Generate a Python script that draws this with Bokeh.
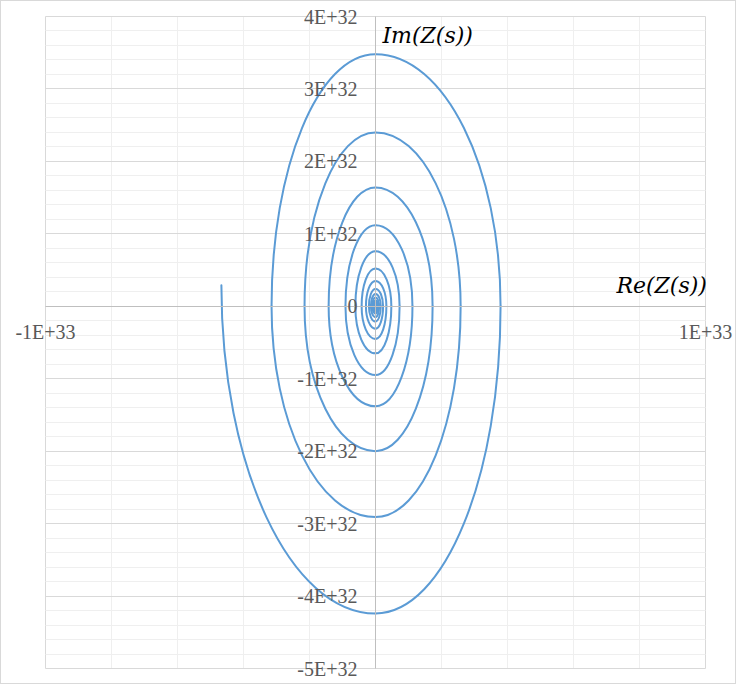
from bokeh.plotting import figure
from bokeh.models import FixedTicker, Label, LabelSet, ColumnDataSource
from bokeh.embed import file_html
from bokeh.resources import INLINE

SCALE = 1e32

# Axis ticks and labels
x_ticks = [-1e33, 0.0, 1e33]
x_tick_labels = ["-1E+33", "", "1E+33"]
y_ticks = [-5e32, -4e32, -3e32, -2e32, -1e32, 0.0, 1e32, 2e32, 3e32, 4e32]
y_tick_labels = ["-5E+32", "-4E+32", "-3E+32", "-2E+32", "-1E+32", "0",
                 "1E+32", "2E+32", "3E+32", "4E+32"]
x_minor = [v * 1e32 for v in (-8, -6, -4, -2, 2, 4, 6, 8)]
y_minor = [v * 1e31 for v in range(-50, 41, 2) if v % 10 != 0]

# Spiral turning points (units of 1E+32)
start_im = 0.29  # Im value at the starting point (left end of the curve)
left_re = [-4.67, -3.15, -2.15, -1.42, -0.91, -0.61, -0.42, -0.29, -0.20,
           -0.14, -0.10, -0.07, -0.05, -0.035]
bottom_im = [-4.24, -2.91, -2.00, -1.38, -0.95, -0.65, -0.45, -0.31, -0.21,
             -0.15, -0.10, -0.07, -0.05, -0.035]
right_re = [3.79, 2.58, 1.73, 1.12, 0.73, 0.48, 0.33, 0.23, 0.16,
            0.11, 0.08, 0.055, 0.04, 0.03]
top_im = [3.48, 2.40, 1.64, 1.12, 0.76, 0.52, 0.35, 0.24, 0.17,
          0.12, 0.08, 0.06, 0.04, 0.03]

K = 0.5523
segs = dict(x0=[], y0=[], x1=[], y1=[], cx0=[], cy0=[], cx1=[], cy1=[])


def add_seg(p0, p3, vertical_start):
    (ax, ay), (bx, by) = p0, p3
    if vertical_start:
        c0 = (ax, ay + K * (by - ay))
        c1 = (bx + K * (ax - bx), by)
    else:
        c0 = (ax + K * (bx - ax), ay)
        c1 = (bx, by + K * (ay - by))
    for key, val in (("x0", ax), ("y0", ay), ("x1", bx), ("y1", by),
                     ("cx0", c0[0]), ("cy0", c0[1]), ("cx1", c1[0]), ("cy1", c1[1])):
        segs[key].append(val * SCALE)


n = len(left_re)
for i in range(n):
    L = (left_re[i], start_im if i == 0 else 0.0)
    B = (0.0, bottom_im[i])
    R = (right_re[i], 0.0)
    T = (0.0, top_im[i])
    add_seg(L, B, True)
    add_seg(B, R, False)
    add_seg(R, T, True)
    if i + 1 < n:
        add_seg(T, (left_re[i + 1], 0.0), False)

# Canvas geometry: plot area inset inside the full-canvas frame
W, H = 736, 684
PL, PR, PT, PB = 44, 32, 15, 17
x_lo, x_hi = -1e33, 1e33
y_lo, y_hi = -5e32, 4e32
dx = (x_hi - x_lo) / (W - PL - PR)
dy = (y_hi - y_lo) / (H - PT - PB)

p = figure(width=W, height=H, output_backend="svg", toolbar_location=None,
           x_range=(x_lo - PL * dx, x_hi + PR * dx),
           y_range=(y_lo - PB * dy, y_hi + PT * dy),
           min_border=0, title=None)
p.styles = {"border": "1px solid #d9d9d9"}
p.background_fill_color = "white"
p.border_fill_color = "white"
p.outline_line_color = None

# grids limited to the plot area
p.xgrid.ticker = FixedTicker(ticks=x_ticks, minor_ticks=x_minor)
p.ygrid.ticker = FixedTicker(ticks=y_ticks, minor_ticks=y_minor)
p.xgrid.bounds = (x_lo, x_hi)
p.ygrid.bounds = (y_lo, y_hi)
p.xgrid.cross_bounds = (y_lo, y_hi)
p.ygrid.cross_bounds = (x_lo, x_hi)
for g in (p.xgrid, p.ygrid):
    g.grid_line_color = "#d9d9d9"
    g.grid_line_width = 1
    g.minor_grid_line_color = "#efefef"
    g.minor_grid_line_width = 1

# axes crossing at zero (lines only; labels drawn as label sets)
p.xaxis.fixed_location = 0
p.yaxis.fixed_location = 0
p.xaxis.bounds = (x_lo, x_hi)
p.yaxis.bounds = (y_lo, y_hi)
p.xaxis.ticker = FixedTicker(ticks=x_ticks, minor_ticks=[])
p.yaxis.ticker = FixedTicker(ticks=y_ticks, minor_ticks=[])
for ax in (p.xaxis, p.yaxis):
    ax.axis_line_color = "#bfbfbf"
    ax.axis_line_width = 1
    ax.major_tick_line_color = None
    ax.minor_tick_line_color = None
    ax.major_tick_out = 0
    ax.major_tick_in = 0
    ax.major_label_text_color = None
    ax.major_label_text_font_size = "1px"

xlab_src = ColumnDataSource(dict(x=x_ticks, y=[0.0] * len(x_ticks), t=x_tick_labels))
ylab_src = ColumnDataSource(dict(x=[0.0] * len(y_ticks), y=y_ticks, t=y_tick_labels))
p.add_layout(LabelSet(x="x", y="y", text="t", source=xlab_src, y_offset=-15,
                      text_align="center", text_baseline="top",
                      text_font="Liberation Serif", text_font_size="20px",
                      text_color="#595959"))
p.add_layout(LabelSet(x="x", y="y", text="t", source=ylab_src, x_offset=-18,
                      text_align="right", text_baseline="middle",
                      text_font="Liberation Serif", text_font_size="20px",
                      text_color="#595959"))

src = ColumnDataSource(segs)
p.bezier(x0="x0", y0="y0", x1="x1", y1="y1", cx0="cx0", cy0="cy0",
         cx1="cx1", cy1="cy1", source=src, line_color="#5b9bd5",
         line_width=2, line_cap="round")

p.add_layout(Label(x=0.21e32, y=3.74e32, text="Im(Z(s))", text_font="DejaVu Serif",
                   text_font_style="italic", text_font_size="22px",
                   text_baseline="middle", text_color="black"))
p.add_layout(Label(x=7.3e32, y=0.28e32, text="Re(Z(s))", text_font="DejaVu Serif",
                   text_font_style="italic", text_font_size="22px",
                   text_baseline="middle", text_color="black"))

open("out.html", "w").write(file_html(p, INLINE))
